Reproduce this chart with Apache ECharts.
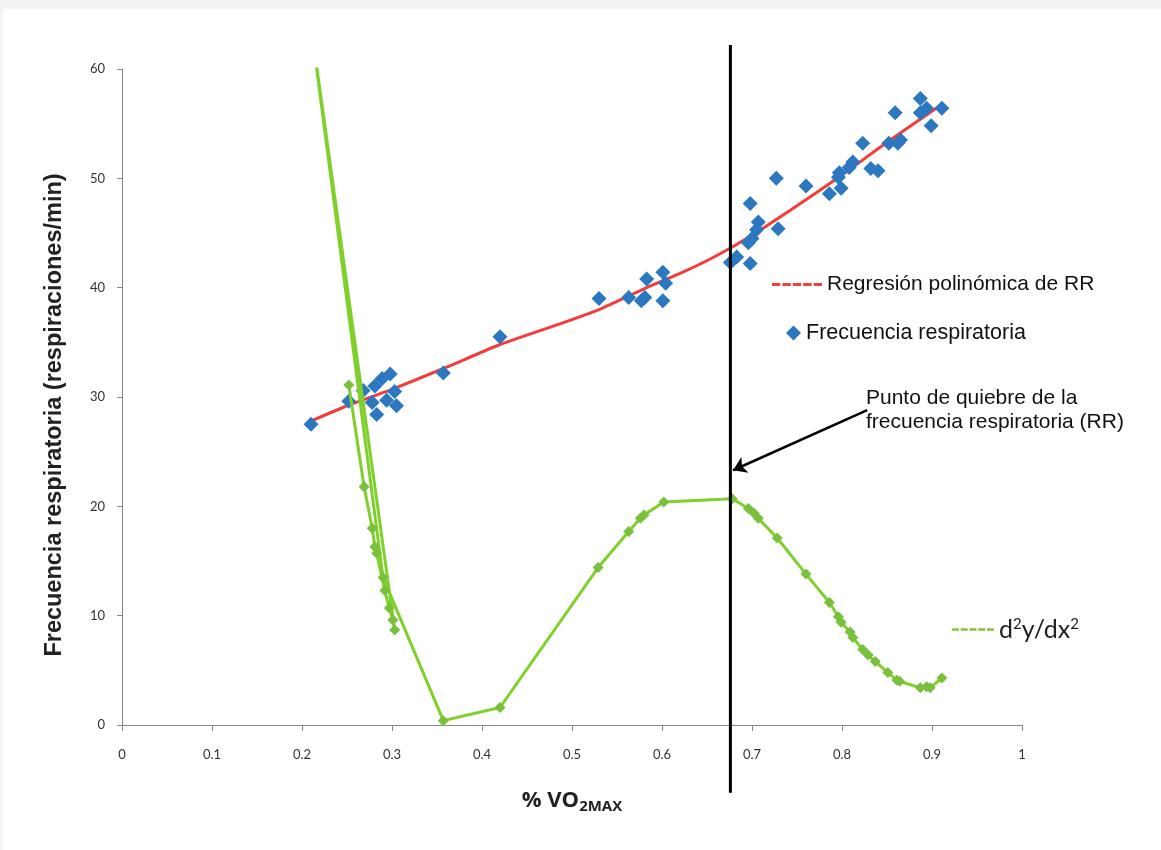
<!DOCTYPE html>
<html>
<head>
<meta charset="utf-8">
<script src="https://cdn.jsdelivr.net/npm/echarts@6/dist/echarts.min.js"></script>
<style>
  body { margin: 0; background: #f3f3f3; }
  #panel { position: absolute; left: 3px; top: 9px; width: 1158px; height: 841px; background: #fff; }
  #chart { position: absolute; left: 0; top: 0; width: 1161px; height: 850px; }
</style>
</head>
<body>
<div id="panel"></div>
<div id="chart"></div>
<script>
// Frecuencia respiratoria (puntos azules)
const rrX = [0.21, 0.252, 0.268, 0.281, 0.289, 0.298, 0.303, 0.294, 0.278, 0.283, 0.305, 0.357,
  0.42, 0.53, 0.563, 0.577, 0.581, 0.583, 0.601, 0.604, 0.601,
  0.676, 0.683, 0.698, 0.696, 0.70, 0.705, 0.707, 0.698, 0.729, 0.727, 0.76,
  0.786, 0.799, 0.796, 0.797, 0.808, 0.812, 0.823, 0.832, 0.84, 0.852, 0.859,
  0.862, 0.865, 0.887, 0.887, 0.894, 0.899, 0.911];
const rrY = [27.5, 29.6, 30.6, 31.0, 31.7, 32.1, 30.5, 29.7, 29.5, 28.4, 29.2, 32.2,
  35.5, 39.0, 39.1, 38.8, 39.1, 40.8, 41.4, 40.4, 38.8,
  42.3, 42.8, 42.2, 44.1, 44.5, 45.3, 46.0, 47.7, 45.4, 50.0, 49.3,
  48.6, 49.1, 50.1, 50.5, 51.0, 51.5, 53.2, 50.9, 50.7, 53.2, 56.0,
  53.2, 53.5, 57.3, 56.0, 56.4, 54.8, 56.4];

const fitX = [0.21, 0.25, 0.3, 0.36, 0.42, 0.48, 0.53, 0.58, 0.62, 0.66, 0.7, 0.75, 0.8, 0.85, 0.91];
const fitY = [27.8, 29.2, 30.7, 32.7, 34.8, 36.5, 38.0, 39.9, 41.3, 42.9, 44.8, 47.5, 50.3, 53.3, 56.7];

// d2y/dx2 (en orden de la serie)
const d2X = [0.252, 0.269, 0.278, 0.281, 0.283, 0.292, 0.297, 0.301, 0.303, 0.21, 0.29, 0.357,
  0.42, 0.529, 0.563, 0.576, 0.58, 0.602, 0.678, 0.696, 0.702, 0.707, 0.728, 0.76,
  0.786, 0.796, 0.799, 0.809, 0.812, 0.823, 0.829, 0.837, 0.851, 0.861, 0.864,
  0.887, 0.894, 0.898, 0.911];
const d2Y = [31.1, 21.8, 18.0, 16.3, 15.7, 12.3, 10.7, 9.6, 8.7, 64.0, 13.5, 0.4,
  1.6, 14.4, 17.7, 18.9, 19.2, 20.4, 20.7, 19.8, 19.4, 18.9, 17.1, 13.8,
  11.2, 9.9, 9.4, 8.5, 8.0, 6.9, 6.4, 5.8, 4.8, 4.1, 4.0,
  3.4, 3.5, 3.4, 4.3];

// punto de quiebre y flecha
const breakX = 0.676;
const breakSpan = [-6.2, 62.2];
const arrowFrom = [0.828, 28.8];
const arrowTo = [0.679, 23.3];

const zip = (xs, ys) => xs.map((x, i) => [x, ys[i]]);
const dash = 'path://M0,0h8v3h-8z M10,0h8v3h-8z M20,0h8v3h-8z M30,0h8v3h-8z M40,0h8v3h-8z';

const chart = echarts.init(document.getElementById('chart'), null, { renderer: 'canvas' });

const labelFont = { fontFamily: 'Lato', fontSize: 13, color: '#333' };
const legendText = { fontFamily: 'Liberation Sans', fontSize: 21, color: '#111' };

chart.setOption({
  animation: false,
  backgroundColor: 'transparent',
  grid: { left: 122, right: 139, top: 69, bottom: 125 },
  xAxis: {
    type: 'value', min: 0, max: 1, interval: 0.1,
    name: '% VO{sub|2MAX}',
    nameLocation: 'middle', nameGap: 62,
    nameTextStyle: {
      fontFamily: 'Open Sans', fontWeight: 'bold', fontSize: 22, color: '#222',
      rich: { sub: { fontFamily: 'Open Sans', fontWeight: 'bold', fontSize: 15, color: '#222', verticalAlign: 'bottom', padding: [12, 0, 0, 0] } }
    },
    axisLine: { lineStyle: { color: '#868686', width: 1 } },
    axisTick: { length: 6, lineStyle: { color: '#868686' } },
    axisLabel: Object.assign({ margin: 23 }, labelFont),
    splitLine: { show: false }
  },
  yAxis: {
    type: 'value', min: 0, max: 60, interval: 10,
    name: 'Frecuencia respiratoria (respiraciones/min)',
    nameLocation: 'middle', nameGap: 55, nameRotate: 90,
    nameTextStyle: { fontFamily: 'Liberation Sans', fontWeight: 'bold', fontSize: 23.5, color: '#222', padding: [0, 36, 0, 0] },
    axisLine: { show: true, lineStyle: { color: '#868686', width: 1 } },
    axisTick: { show: true, length: 5, lineStyle: { color: '#868686' } },
    axisLabel: Object.assign({ margin: 17 }, labelFont),
    splitLine: { show: false }
  },
  legend: [
    {
      data: [{ name: 'Regresión polinómica de RR', icon: dash, itemStyle: { color: '#f04040' } }],
      left: 767, top: 269, itemWidth: 50, itemHeight: 4, textStyle: legendText
    },
    {
      data: [{ name: 'Frecuencia respiratoria', icon: 'diamond', itemStyle: { color: '#2c78c0' } }],
      left: 781, top: 317, itemWidth: 15, itemHeight: 15, textStyle: Object.assign({}, legendText, { fontSize: 21.5 })
    },
    {
      data: [{ name: 'd2y/dx2', icon: dash, itemStyle: { color: '#86c53a' } }],
      left: 947, top: 612, itemWidth: 42, itemHeight: 4,
      formatter: () => 'd{sup|2}y/dx{sup|2}',
      textStyle: {
        fontFamily: 'Lato', fontSize: 25, color: '#222',
        rich: { sup: { fontFamily: 'Lato', fontSize: 15, color: '#222', verticalAlign: 'top', padding: [0, 0, 10, 0] } }
      }
    }
  ],
  graphic: [
    {
      type: 'text', left: 866, top: 386,
      style: {
        text: 'Punto de quiebre de la\nfrecuencia respiratoria (RR)',
        fontFamily: 'Liberation Sans', fontSize: 21, lineHeight: 24, fill: '#111'
      }
    }
  ],
  series: [
    {
      name: 'Regresión polinómica de RR', type: 'line', data: zip(fitX, fitY),
      showSymbol: false, symbol: 'none', smooth: 0.15,
      lineStyle: { color: '#f43c3c', width: 3 }, itemStyle: { color: '#f43c3c' }, z: 2
    },
    {
      name: 'Frecuencia respiratoria', type: 'scatter', data: zip(rrX, rrY),
      symbol: 'diamond', symbolSize: 15,
      itemStyle: { color: '#2c78c0', opacity: 1 }, z: 3
    },
    {
      name: 'd2y/dx2', type: 'line', data: zip(d2X, d2Y), clip: true,
      symbol: 'diamond', symbolSize: 11, showAllSymbol: true,
      lineStyle: { color: '#7fd02a', width: 3 },
      itemStyle: { color: '#79c03c' }, z: 4
    },
    {
      name: 'quiebre', type: 'line', data: breakSpan.map(y => [breakX, y]), clip: false,
      symbol: 'none', lineStyle: { color: '#000', width: 3 }, z: 5,
      markLine: {
        silent: true, symbol: ['none', 'arrow'], symbolSize: 13,
        lineStyle: { color: '#000', width: 2.5, type: 'solid' },
        label: { show: false },
        data: [[{ coord: arrowFrom }, { coord: arrowTo }]]
      }
    }
  ]
});
</script>
</body>
</html>
